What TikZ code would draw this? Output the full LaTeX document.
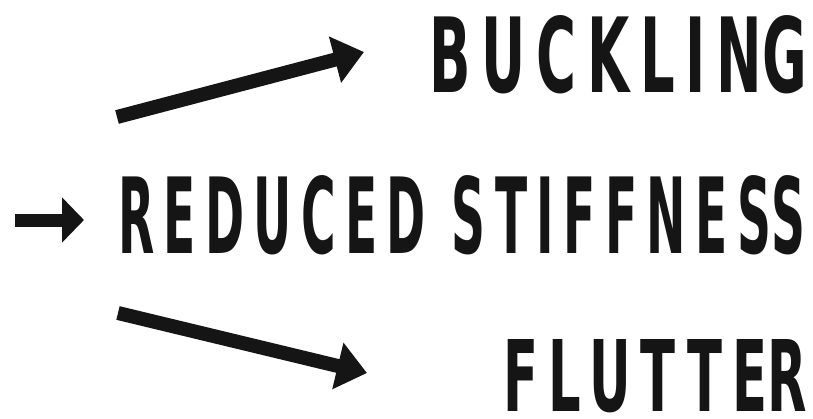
\documentclass[tikz,border=0pt]{standalone}
\usepackage{fontspec}
\usetikzlibrary{arrows.meta}
\newfontfamily\labelfont[LetterSpace=18]{DejaVu Sans Condensed Bold}
\definecolor{ink}{HTML}{151515}
\tikzset{
  word/.style={inner sep=0pt, outer sep=0pt, anchor=base west, text=ink},
  bigarrow/.style={draw=ink, line width=10.5pt, line cap=butt,
    -{Triangle[length=22.5pt, width=34.5pt]}},
}
\begin{document}
\begin{tikzpicture}[x=0.75pt, y=-0.75pt]
\useasboundingbox (0,0) rectangle (813,418);
\node[word] (buck) at (429,92) {\resizebox{283.5pt}{57.75pt}{\labelfont BUCKLIN\kern0ptG}};
\node[word] (red) at (118,253) {\resizebox{515.25pt}{58.5pt}{\labelfont REDUCED STIFFNES\kern0ptS}};
\node[word] (flut) at (503,411) {\resizebox{228pt}{54pt}{\labelfont FLUTTE\kern0ptR}};
\coordinate (inA) at (15,220);
\coordinate (inB) at (84,220);
\coordinate (upA) at (117,117);
\coordinate (upB) at (364,52);
\coordinate (dnA) at (118,313);
\coordinate (dnB) at (367,373);
\draw[bigarrow, line width=9.75pt, -{Triangle[length=16.5pt, width=33pt]}] (inA) -- (inB);
\draw[bigarrow] (upA) -- (upB);
\draw[bigarrow] (dnA) -- (dnB);
\end{tikzpicture}
\end{document}
